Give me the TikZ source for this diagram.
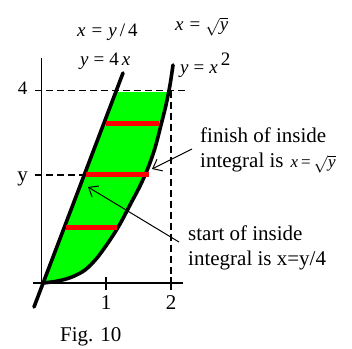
\documentclass[tikz,border=0pt]{standalone}
\usepackage{fontspec}
\setmainfont{Liberation Serif}
\usetikzlibrary{arrows.meta}
\begin{document}
\begin{tikzpicture}[x=1pt,y=-1pt,
  curve/.style={line width=3.6pt, line cap=round},
  axis/.style={line width=1.1pt},
  guide/.style={line width=1.1pt, dash pattern=on 7pt off 4pt},
  bar/.style={line width=5pt, red},
  pointer/.style={line width=1pt, -{Straight Barb[length=8pt,width=13pt]}},
  txt/.style={inner sep=0pt, anchor=base west, font=\fontsize{21}{25}\selectfont},
  mth/.style={inner sep=0pt, anchor=base west, font=\fontsize{19}{22}\selectfont},
  lab/.style={inner sep=0pt, anchor=base, font=\fontsize{21}{25}\selectfont}]
\useasboundingbox (0,0) rectangle (352,348);
% green region
\begin{scope}
  \clip (0,92) rectangle (352,348);
  \fill[green] (43,283) -- (123,73) -- (173,65) -- plot[smooth] coordinates {(173,65) (170,85) (166,105) (161,125) (155,148) (148,168) (140,186) (130,205) (120,224) (110,240) (97,258) (85,270) (72,277) (58,281) (43,283)} -- cycle;
\end{scope}
% axes
\draw[axis] (33,283) -- (183,283);
\draw[axis] (41.5,58) -- (41.5,283);
\draw[axis] (106,277) -- (106,290);
\draw[axis] (171,277) -- (171,290);
% guides
\draw[guide] (35,90.5) -- (186,90.5);
\draw[guide] (35,175) -- (86,175);
\draw[guide] (171,90.5) -- (171,283);
% curves
\draw[curve] (34,307) -- (123,73);
\draw[curve] plot[smooth] coordinates {(43,283) (58,281) (72,277) (85,270) (97,258) (110,240) (120,224) (130,205) (140,186) (148,168) (155,148) (161,125) (166,105) (170,85) (173,65)};
% red bars
\draw[bar] (105.5,123.5) -- (159,123.5);
\draw[bar] (86,174) -- (149,174);
\draw[bar] (66,227) -- (116.5,227);
% axis labels
\node[lab, font=\fontsize{19}{22}\selectfont] (four) at (22.5,94) {4};
\node[lab] (ylab) at (22.5,181.5) {y};
\node[lab] (one) at (106,309) {1};
\node[lab] (two) at (171,309) {2};
% curve labels
\node[mth] (eqa) at (77,36) {\textit{x}\hspace{6pt}=\hspace{6pt}\textit{y}\hspace{3pt}/\hspace{3pt}4};
\node[mth] (eqb) at (80,65) {\textit{y}\hspace{5pt}=\hspace{5pt}4\hspace{3pt}\textit{x}};
\node[mth] (eqc) at (175,30) {\textit{x}\hspace{6pt}=\hspace{5pt}$\sqrt{\mbox{\itshape y}}$};
\node[mth] (eqd) at (180,73) {\textit{y}\hspace{5pt}=\hspace{5pt}\textit{x}\hspace{3pt}\raisebox{8pt}{2}};
% annotations
\node[txt] (fin1) at (200,142.5) {finish of inside};
\node[txt] (fin2) at (200,167) {integral is\hspace{7pt}{\fontsize{17}{20}\selectfont\textit{x}\hspace{3pt}=\hspace{3pt}\smash{$\sqrt{\mbox{\itshape y}}$}}};
\node[txt] (st1) at (188,240) {start of inside};
\node[txt] (st2) at (188,265) {integral is x=y/4};
\node[txt] (fig) at (60,341.5) {Fig. 10};
% pointers
\coordinate (fintail) at (192,149);
\coordinate (fintip) at (152,169);
\coordinate (sttail) at (179,242);
\coordinate (sttip) at (88,187);
\draw[pointer] (fintail) -- (fintip);
\draw[pointer] (sttail) -- (sttip);
\end{tikzpicture}
\end{document}
